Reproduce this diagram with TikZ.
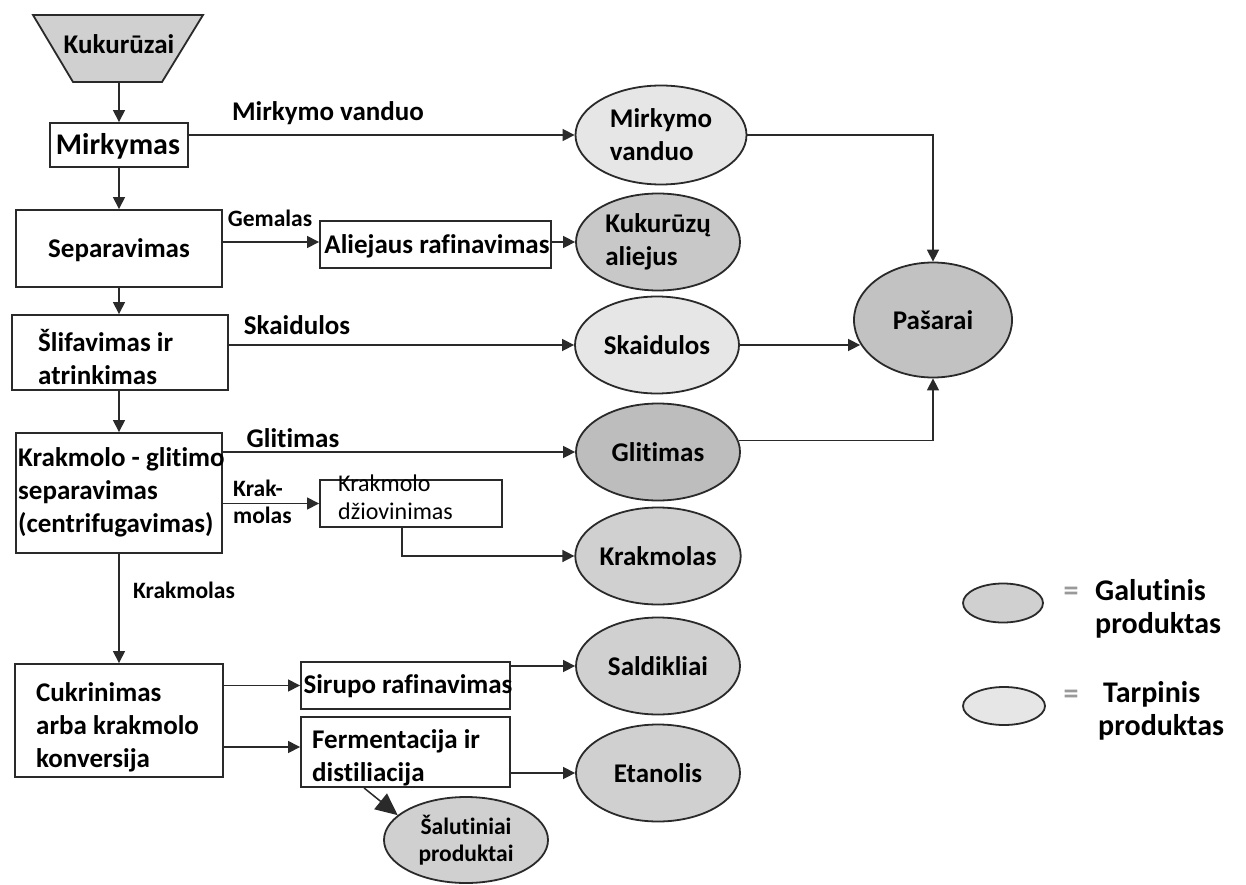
\documentclass[tikz,border=0pt]{standalone}
\usepackage{fontspec}
\setmainfont{Carlito}[Ligatures={NoCommon}]
\usetikzlibrary{shapes.geometric,arrows.meta,calc}
\definecolor{finalc}{HTML}{D0D0D0}
\definecolor{midc}{HTML}{E6E6E6}
\definecolor{glc}{HTML}{BDBDBD}
\definecolor{pasc}{HTML}{C2C2C2}
\definecolor{kac}{HTML}{C8C8C8}
\definecolor{linec}{HTML}{2A2A2A}
\newcommand\fntA{\fontsize{27}{33}\selectfont\bfseries}
\newcommand\fntB{\fontsize{30}{34}\selectfont\bfseries}
\newcommand\fntS{\fontsize{23.5}{27}\selectfont\bfseries}
\newcommand\fntR{\fontsize{24}{28}\selectfont}
\newcommand\fntL{\fontsize{30}{33}\selectfont\bfseries}
\begin{document}
\begin{tikzpicture}[x=1pt,y=-1pt,
  box/.style={draw=linec, line width=1.9pt, fill=white, inner sep=0pt},
  ell/.style={ellipse, draw=linec, line width=1.8pt, inner sep=0pt, minimum width=164pt, minimum height=97pt, font=\fntA, align=center},
  fin/.style={ell, fill=finalc},
  mid/.style={ell, fill=midc},
  conn/.style={line width=1.5pt, draw=linec, -{Triangle[length=12pt,width=12pt]}},
  bigconn/.style={line width=1.5pt, draw=linec, -{Triangle[length=22pt,width=20pt]}},
  txt/.style={inner sep=0pt, font=\fntA},
  txts/.style={inner sep=0pt, font=\fntS},
  txtr/.style={inner sep=0pt, font=\fntR},
  txtl/.style={inner sep=0pt, font=\fntL}]
\useasboundingbox (0,0) rectangle (1246,885);
\fill[white] (0,0) rectangle (1246,885);

% source
\filldraw[fill=finalc, draw=linec, line width=1.8pt] (33,15) -- (203,15) -- (162,82) -- (73,82) -- cycle;
\node[txt] (kuk) at (119,44) {Kukurūzai};
\coordinate (kukb) at (119,82);

% process boxes
\node[box, minimum width=138pt, minimum height=44pt] (mirk) at (119,145) {};
\node[box, minimum width=206pt, minimum height=77pt] (sep) at (119,248.5) {};
\node[box, minimum width=231pt, minimum height=47pt] (ali) at (435.5,244.5) {};
\node[box, minimum width=216pt, minimum height=75pt] (slif) at (120,352.5) {};
\node[box, minimum width=206pt, minimum height=120pt] (krak) at (119,493) {};
\node[box, minimum width=182pt, minimum height=47pt] (dz) at (411,503.5) {};
\node[box, minimum width=208pt, minimum height=113pt] (cuk) at (119,720.5) {};
\node[box, minimum width=209pt, minimum height=47pt] (sir) at (405.5,685.5) {};
\node[box, minimum width=209pt, minimum height=70pt] (ferm) at (405.5,752) {};

% box texts
\node[inner sep=0pt, font=\fntB] (tmirk) at (118,146) {Mirkymas};
\node[txt] (tsep) at (119,250) {Separavimas};
\node[txt] (tali) at (437,246) {Aliejaus rafinavimas};
\node[txt, align=left, anchor=west] (tslif) at (38,357) {Šlifavimas ir\\atrinkimas};
\node[txt, align=left, anchor=west] (tkrak) at (18,492) {Krakmolo - glitimo\\separavimas\\(centrifugavimas)};
\node[txtr, align=left, anchor=west] (tdz) at (338,497) {Krakmolo\\džiovinimas};
\node[txt, align=left, anchor=west] (tcuk) at (36,727) {Cukrinimas\\arba krakmolo\\konversija};
\node[txt] (tsir) at (408,686) {Sirupo rafinavimas};
\node[txt, align=left, anchor=west] (tferm) at (312,758) {Fermentacija ir\\distiliacija};

% products
\node[mid, minimum width=171pt, minimum height=99pt, align=left] (mv) at (661,135) {Mirkymo\\vanduo};
\node[fin, fill=kac, align=left] (ka) at (658,242) {Kukurūzų\\aliejus};
\node[mid] (sk) at (657,345) {Skaidulos};
\node[fin, fill=glc] (gl) at (658,452) {Glitimas};
\node[fin] (km) at (658,556) {Krakmolas};
\node[fin] (sal) at (658,666) {Saldikliai};
\node[fin] (et) at (658,773) {Etanolis};
\node[fin, minimum width=164pt, minimum height=86pt, font=\fntS] (sp) at (466,840) {Šalutiniai\\produktai};
\node[ell, fill=pasc, minimum width=158pt, minimum height=115pt] (pas) at (933,320) {Pašarai};

% connector labels
\node[txt] (lmv) at (328,113) {Mirkymo vanduo};
\node[txts] (lgem) at (270,218) {Gemalas};
\node[txt] (lsk) at (297,325) {Skaidulos};
\node[txt] (lgl) at (293,438) {Glitimas};
\node[txts, align=left, anchor=west] (lkm) at (233,502) {Krak-\\molas};
\node[txts] (lkr) at (184,590) {Krakmolas};

% connectors
\draw[conn] (kukb) -- (mirk.north);
\draw[conn] (mirk.east |- mv.west) -- (mv.west);
\draw[conn] (mirk.south) -- (sep.north);
\draw[conn] (sep.east |- ka.west) -- (ali.west |- ka.west);
\draw[conn] (ali.east |- ka.west) -- (ka.west);
\draw[conn] (sep.south) -- (sep.south |- slif.north);
\draw[conn] (slif.east |- sk.west) -- (sk.west);
\draw[conn] (slif.south -| krak.north) -- (krak.north);
\draw[conn] (krak.east |- gl.west) -- (gl.west);
\draw[conn] (krak.east |- dz.west) -- (dz.west);
\draw[conn] ($(dz.south)+(-9,0)$) |- (km.west);
\draw[conn] (krak.south) -- (cuk.north);
\draw[conn] (cuk.east |- sir.west) -- (sir.west);
\draw[conn] ($(cuk.east |- ferm.west)+(0,-5)$) -- ($(ferm.west)+(0,-5)$);
\draw[conn] (sir.east |- sal.west) -- (sal.west);
\draw[conn] (ferm.east |- et.west) -- (et.west);
\draw[bigconn] ($(ferm.south west)+(64,0)$) -- (sp.160);
\draw[conn] (mv.east) -| (pas.north);
\draw[conn] (sk.east) -- ($(sk.east -| pas.west)+(7,0)$);
\draw[conn] (gl.8) -| (pas.south);

% legend
\node[ell, fill=finalc, minimum width=80pt, minimum height=39pt] (leg1) at (1003,603) {};
\node[ell, fill=midc, minimum width=82pt, minimum height=38pt] (leg2) at (1004,706) {};
\node[txtl, text=black!40] (eq1) at (1071,594) {=};
\node[txtl, text=black!40] (eq2) at (1071,697) {=};
\node[txtl, align=left, anchor=west] (lt1) at (1095,609) {Galutinis\\produktas};
\node[txtl, align=left, anchor=west] (lt2) at (1098,711) {\hspace{5pt}Tarpinis\\produktas};
\end{tikzpicture}
\end{document}
